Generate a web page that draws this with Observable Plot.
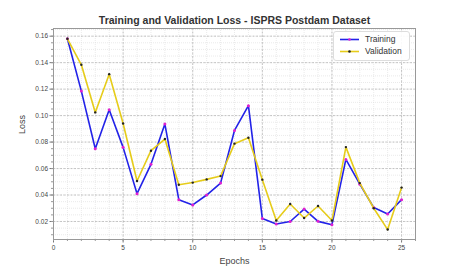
<!DOCTYPE html>
<html>
<head>
<meta charset="utf-8">
<script src="https://cdn.jsdelivr.net/npm/d3@7"></script>
<script src="https://cdn.jsdelivr.net/npm/@observablehq/plot@0.6"></script>
<style>
  html, body { margin: 0; padding: 0; background: white; }
  #wrap { position: relative; width: 449px; height: 272px; }
  #legend { position: absolute; left: 333px; top: 31px; width: 77px; height: 30px;
            background: rgba(255,255,255,0.9); border: 1px solid #ddd; border-radius: 3px;
            box-sizing: border-box; font-family: "Liberation Sans", Arial, sans-serif; }
</style>
</head>
<body>
<div id="wrap"></div>
<script>
const title = "Training and Validation Loss - ISPRS Postdam Dataset";
const xLabel = "Epochs";
const yLabel = "Loss";
const seriesNames = ["Training", "Validation"];
const epochs = [1,2,3,4,5,6,7,8,9,10,11,12,13,14,15,16,17,18,19,20,21,22,23,24,25];
const training = [0.158,0.1185,0.075,0.1044,0.076,0.041,0.0632,0.0936,0.0365,0.0325,0.040,0.049,0.0888,0.1075,0.0222,0.0181,0.0200,0.0294,0.0201,0.0176,0.0669,0.0482,0.0305,0.0257,0.0365];
const validation = [0.158,0.1384,0.1024,0.1313,0.094,0.0506,0.0735,0.0823,0.0478,0.0494,0.0518,0.0543,0.0788,0.0833,0.0516,0.0207,0.0332,0.0226,0.0317,0.0207,0.0762,0.049,0.030,0.0139,0.0456];
const xTicks = [0,5,10,15,20,25];
const yTicks = [0.02,0.04,0.06,0.08,0.10,0.12,0.14,0.16];
const xMinorTicks = [0,1,2,3,4,5,6,7,8,9,10,11,12,13,14,15,16,17,18,19,20,21,22,23,24,25,26];
const yMinorTicks = [0.01,0.015,0.02,0.025,0.03,0.035,0.04,0.045,0.05,0.055,0.06,0.065,0.07,0.075,0.08,0.085,0.09,0.095,0.10,0.105,0.11,0.115,0.12,0.125,0.13,0.135,0.14,0.145,0.15,0.155,0.16,0.165];
const colors = { trainLine: "#2222e8", trainDot: "#e020d0", valLine: "#e6cc1a", valDot: "#222222" };

const rows = epochs.map((e, i) => ({ epoch: e, training: training[i], validation: validation[i] }));

const chart = Plot.plot({
  width: 449, height: 272,
  marginTop: 28, marginLeft: 53, marginRight: 34, marginBottom: 33,
  x: { domain: [0, 26] },
  y: { domain: [0.0064, 0.1658] },
  style: { fontFamily: "'Liberation Sans', Arial, sans-serif", fontSize: "6.5px", color: "#444", background: "white" },
  marks: [
    Plot.ruleX(xMinorTicks, { stroke: "#dcdcdc", strokeWidth: 0.6, strokeDasharray: "1,1" }),
    Plot.ruleY(yMinorTicks, { stroke: "#dcdcdc", strokeWidth: 0.6, strokeDasharray: "1,1" }),
    Plot.ruleX(xTicks, { stroke: "#b0b0b0", strokeWidth: 0.7, strokeDasharray: "2,1.5" }),
    Plot.ruleY(yTicks, { stroke: "#b0b0b0", strokeWidth: 0.7, strokeDasharray: "2,1.5" }),
    Plot.axisX(xTicks, { tickSize: 3.5, tickPadding: 2, label: null, stroke: "#777" }),
    Plot.axisX(xMinorTicks, { tickSize: 2, tickFormat: () => "", label: null, stroke: "#999" }),
    Plot.axisY(yTicks, { tickSize: 3.5, tickPadding: 2, tickFormat: d3.format(".2f"), label: null, stroke: "#777" }),
    Plot.axisY(yMinorTicks, { tickSize: 2, tickFormat: () => "", label: null, stroke: "#999" }),
    Plot.frame({ stroke: "#999", strokeWidth: 1 }),
    Plot.line(rows, { x: "epoch", y: "training", stroke: colors.trainLine, strokeWidth: 1.6 }),
    Plot.dot(rows, { x: "epoch", y: "training", fill: colors.trainDot, r: 1.5 }),
    Plot.line(rows, { x: "epoch", y: "validation", stroke: colors.valLine, strokeWidth: 1.6 }),
    Plot.dot(rows, { x: "epoch", y: "validation", fill: colors.valDot, r: 1.2 }),
    Plot.text([title], { frameAnchor: "top", dy: -12, fontWeight: "bold", fontSize: 10.5, fill: "#333" }),
    Plot.text([xLabel], { frameAnchor: "bottom", dy: 24, fontSize: 9, fill: "#444" }),
    Plot.text([yLabel], { frameAnchor: "left", dx: -31, rotate: -90, fontSize: 9, fill: "#444" })
  ]
});
const wrap = document.getElementById("wrap");
wrap.appendChild(chart);

// legend
const legend = document.createElement("div");
legend.id = "legend";
const ls = d3.create("svg").attr("width", 75).attr("height", 28);
const items = [
  { name: seriesNames[0], line: colors.trainLine, dot: colors.trainDot },
  { name: seriesNames[1], line: colors.valLine, dot: colors.valDot }
];
items.forEach((it, i) => {
  const y = 7.5 + i * 12;
  ls.append("line").attr("x1", 6).attr("x2", 25).attr("y1", y).attr("y2", y)
    .attr("stroke", it.line).attr("stroke-width", 1.6);
  ls.append("circle").attr("cx", 15.5).attr("cy", y).attr("r", 1.3).attr("fill", it.dot);
  ls.append("text").attr("x", 31).attr("y", y).attr("dy", "0.35em")
    .attr("font-size", 8.5).attr("fill", "#333").text(it.name);
});
legend.appendChild(ls.node());
wrap.appendChild(legend);
</script>
</body>
</html>
